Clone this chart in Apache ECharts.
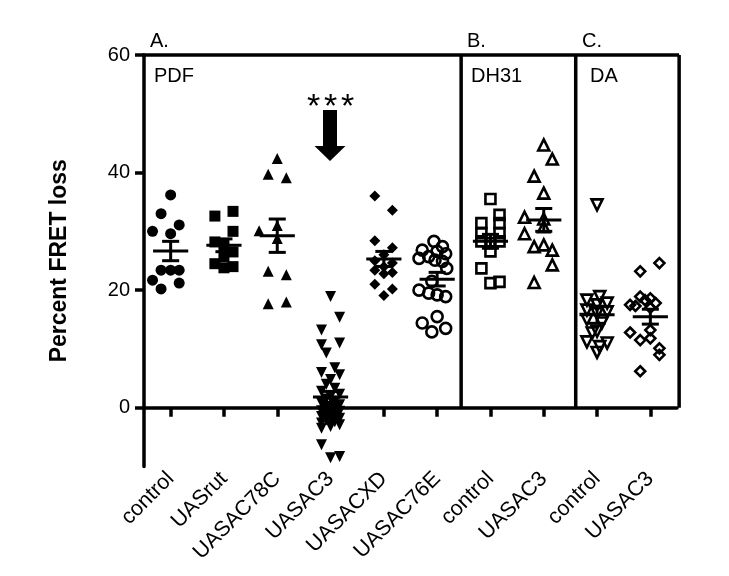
<!DOCTYPE html>
<html><head><meta charset="utf-8">
<script src="https://cdn.jsdelivr.net/npm/echarts@6/dist/echarts.min.js"></script>
<style>html,body{margin:0;padding:0;background:#fff}#c{width:729px;height:576px}</style>
</head><body><div id="c"></div>
<script>
// ---- data ----
const categories = ['control','UASrut','UASAC78C','UASAC3','UASACXD','UASAC76E','control','UASAC3','control','UASAC3'];
const yTicks = [0, 20, 40, 60];
const panelLabels = ['A.', 'B.', 'C.'];
const panelNames = ['PDF', 'DH31', 'DA'];
const yTitle = 'Percent FRET loss';
const sigMark = '*';

const pdfControl = [36.2, 33.0, 31.1, 30.0, 29.6, 23.4, 23.4, 23.4, 21.7, 21.2, 20.2];
const pdfRut     = [33.4, 32.6, 30.0, 28.2, 27.6, 26.5, 25.7, 24.5, 24.0, 23.8];
const pdf78C     = [42.4, 39.7, 39.1, 31.0, 30.1, 28.8, 23.2, 22.6, 18.0, 17.7];
const pdfAC3     = [18.9, 15.4, 13.2, 11.0, 10.7, 9.3, 6.8, 6.0, 5.6, 4.8, 4.0, 3.3, 2.8, 2.3, 1.9, 1.5, 1.1, 0.8, 0.5, 0.2, 0.0,
                    -0.3, -0.5, -0.6, -0.9, -1.0, -1.2, -1.5, -1.8, -2.0, -2.1, -2.4, -2.6, -2.9, -3.2, -3.5, -6.3, -8.3, -8.5];
const pdfXD      = [36.0, 33.6, 28.4, 27.2, 26.0, 25.0, 24.6, 24.0, 23.4, 23.0, 22.8, 21.0, 20.2, 19.1];
const pdf76E     = [28.3, 27.4, 26.8, 26.6, 26.2, 25.7, 25.4, 25.1, 24.9, 23.7, 21.5, 20.0, 19.5, 19.2, 18.9, 15.5, 14.4, 13.5, 12.9];
const dhControl  = [35.5, 32.8, 31.4, 31.4, 29.7, 29.7, 28.3, 28.0, 28.3, 26.6, 23.7, 21.2, 21.4];
const dhAC3      = [44.7, 42.3, 39.4, 36.5, 32.4, 32.1, 30.8, 29.6, 27.4, 27.7, 26.8, 24.3, 21.3];
const daControl  = [34.5, 18.9, 18.3, 17.8, 17.5, 16.6, 16.3, 16.0, 15.0, 14.4, 13.0, 12.7, 11.2, 11.0, 10.4, 9.4];
const daAC3      = [24.6, 23.2, 18.9, 18.6, 18.3, 17.8, 17.5, 17.3, 17.0, 13.2, 12.8, 11.8, 11.5, 10.1, 9.0, 6.2];

// horizontal scatter (jitter) of each point, in category widths
const pdfControlJit = [0, -0.18, 0.16, -0.34, 0, -0.18, 0, 0.16, -0.34, 0.16, -0.18];
const pdfRutJit     = [0.17, -0.17, 0.17, -0.17, 0, 0.17, 0, -0.17, 0.17, 0];
const pdf78CJit     = [0, -0.17, 0.17, 0, -0.34, 0, -0.17, 0.17, 0.17, -0.17];
const pdfAC3Jit     = [0, 0.17, -0.17, 0.17, -0.17, -0.08, 0.08, -0.17, 0.17, 0, -0.08, 0.08, -0.17, 0.17, 0, -0.08, 0.08, -0.17, 0.17, 0,
                       -0.08, 0.08, -0.17, 0.17, 0, -0.08, 0.08, -0.17, 0.17, 0, -0.08, 0.08, -0.17, 0.17, 0, -0.17, -0.17, 0.17, 0];
const pdfXDJit      = [-0.17, 0.16, -0.17, 0.16, 0, -0.17, 0.16, 0, -0.17, 0.16, 0, -0.17, 0.16, 0];
const pdf76EJit     = [-0.06, 0.1, -0.28, 0, 0.16, -0.16, -0.34, -0.04, 0.1, 0.18, -0.1, -0.34, -0.16, 0, 0.16, 0, -0.28, 0.16, -0.1];
const dhControlJit  = [0, 0.17, -0.17, 0.17, -0.17, 0.17, -0.17, 0, 0.17, 0, -0.17, 0, 0.17];
const dhAC3Jit      = [0, 0.16, -0.18, 0, -0.36, 0, 0, -0.36, -0.18, 0, 0.16, 0.16, -0.18];
const daControlJit  = [0, 0.05, -0.19, 0.19, 0, -0.19, 0.19, 0, -0.19, 0.09, 0, -0.09, -0.19, 0.19, 0.05, 0];
const daAC3Jit      = [0.17, -0.19, -0.19, 0, -0.1, 0.1, -0.38, -0.28, 0, 0, -0.38, 0, -0.19, 0.17, 0.17, -0.19];

const groups  = [pdfControl, pdfRut, pdf78C, pdfAC3, pdfXD, pdf76E, dhControl, dhAC3, daControl, daAC3];
const jitters = [pdfControlJit, pdfRutJit, pdf78CJit, pdfAC3Jit, pdfXDJit, pdf76EJit, dhControlJit, dhAC3Jit, daControlJit, daAC3Jit];

// ---- styles ----
const FONT = '"Liberation Sans", Arial, Helvetica, sans-serif';
const LW = 3.5;
const markers = [
  {symbol: 'circle',   size: 11, filled: true,  rotate: 0},
  {symbol: 'rect',     size: 11, filled: true,  rotate: 0},
  {symbol: 'triangle', size: 11, filled: true,  rotate: 0},
  {symbol: 'triangle', size: 11, filled: true,  rotate: 180},
  {symbol: 'diamond',  size: 11, filled: true,  rotate: 0},
  {symbol: 'circle',   size: 11, filled: false, rotate: 0},
  {symbol: 'rect',     size: 10, filled: false, rotate: 0},
  {symbol: 'triangle', size: 11, filled: false, rotate: 0},
  {symbol: 'triangle', size: 11, filled: false, rotate: 180},
  {symbol: 'diamond',  size: 10, filled: false, rotate: 0}
];
const panelEdges = [5.45, 7.6];
const leftEdge = -0.52, rightEdge = 9.54;

function meanOf(a) { return a.reduce((s, v) => s + v, 0) / a.length; }
function semOf(a) {
  const m = meanOf(a);
  const v = a.reduce((s, x) => s + (x - m) * (x - m), 0) / (a.length - 1);
  return Math.sqrt(v) / Math.sqrt(a.length);
}

const scatterSeries = groups.map((vals, i) => {
  const mk = markers[i];
  return {
    type: 'scatter', xAxisIndex: 2, yAxisIndex: 0, silent: true, z: 2,
    symbol: mk.symbol, symbolSize: mk.size, symbolRotate: mk.rotate,
    itemStyle: mk.filled ? {color: '#000', opacity: 1}
                         : {color: 'rgba(0,0,0,0)', borderColor: '#000', borderWidth: 2.6, opacity: 1},
    data: vals.map((v, k) => [i + jitters[i][k], v])
  };
});

function seg(a, b, w) {
  return {type: 'line', shape: {x1: a[0], y1: a[1], x2: b[0], y2: b[1]}, style: {stroke: '#000', lineWidth: w || LW}};
}

const meanSeries = {
  type: 'custom', xAxisIndex: 2, yAxisIndex: 0, silent: true, z: 5,
  data: groups.map((g, i) => [i, meanOf(g), semOf(g)]),
  renderItem: function (params, api) {
    const i = api.value(0), m = api.value(1), s = api.value(2);
    const p = (x, y) => api.coord([x, y]);
    return {type: 'group', children: [
      seg(p(i - 0.33, m), p(i + 0.33, m), 3),
      seg(p(i, m - s), p(i, m + s), 3),
      seg(p(i - 0.16, m + s), p(i + 0.16, m + s), 3),
      seg(p(i - 0.16, m - s), p(i + 0.16, m - s), 3)
    ]};
  }
};

const frameSeries = {
  type: 'custom', xAxisIndex: 2, yAxisIndex: 0, silent: true, z: 4,
  data: [[0, 0]],
  renderItem: function (params, api) {
    const p = (x, y) => api.coord([x, y]);
    const ch = [seg(p(leftEdge, 60), p(rightEdge, 60)), seg(p(rightEdge, 0), p(rightEdge, 60))];
    panelEdges.forEach(e => ch.push(seg(p(e, 0), p(e, 60))));
    return {type: 'group', children: ch};
  }
};

const chart = echarts.init(document.getElementById('c'), null, {renderer: 'canvas'});
const txt = (text, x, y, size, align) => ({
  type: 'text', x: x, y: y, silent: true,
  style: {text: text, fill: '#000', font: (size || 20) + 'px ' + FONT, verticalAlign: 'top', align: align || 'left'}
});

chart.setOption({
  animation: false,
  backgroundColor: '#fff',
  grid: {left: 144, right: 52, top: 55, bottom: 109.5, outerBoundsMode: 'none', containLabel: false},
  xAxis: [
    {type: 'category', data: categories, position: 'bottom', boundaryGap: true,
     axisLine: {show: true, onZero: true, lineStyle: {color: '#000', width: LW}},
     axisTick: {show: true, alignWithLabel: true, interval: 0, length: 9, lineStyle: {color: '#000', width: LW}},
     axisLabel: {show: false, interval: 0}, splitLine: {show: false}},
    {type: 'category', data: categories, position: 'bottom', boundaryGap: true,
     axisLine: {show: false, onZero: false}, axisTick: {show: false},
     axisLabel: {show: true, interval: 0, rotate: 45, margin: 9, fontSize: 21.5, color: '#000', fontFamily: FONT},
     splitLine: {show: false}},
    {type: 'value', min: -0.5, max: 9.5, show: false}
  ],
  yAxis: {
    type: 'value', min: -10, max: 60,
    name: yTitle, nameLocation: 'middle', nameGap: 73,
    nameTextStyle: {fontSize: 23, fontWeight: 'bold', color: '#000', fontFamily: FONT},
    axisLine: {show: true, onZero: false, lineStyle: {color: '#000', width: LW}},
    axisTick: {show: true, customValues: yTicks, length: 9, lineStyle: {color: '#000', width: LW}},
    axisLabel: {show: true, customValues: yTicks, margin: 14, fontSize: 20, color: '#000', fontFamily: FONT},
    splitLine: {show: false}
  },
  graphic: [
    txt(panelLabels[0], 150, 31),
    txt(panelLabels[1], 467, 31),
    txt(panelLabels[2], 582, 31),
    txt(panelNames[0], 154, 66),
    txt(panelNames[1], 471, 66),
    txt(panelNames[2], 590, 66),
    txt(sigMark, 313.5, 91, 34, 'center'),
    txt(sigMark, 330.5, 91, 34, 'center'),
    txt(sigMark, 347.5, 91, 34, 'center'),
    {type: 'polygon', silent: true,
     shape: {points: [[323, 110], [337, 110], [337, 146], [345.5, 146], [330, 161], [314.5, 146], [323, 146]]},
     style: {fill: '#000'}}
  ],
  series: [frameSeries].concat(scatterSeries, [meanSeries])
});
</script></body></html>
